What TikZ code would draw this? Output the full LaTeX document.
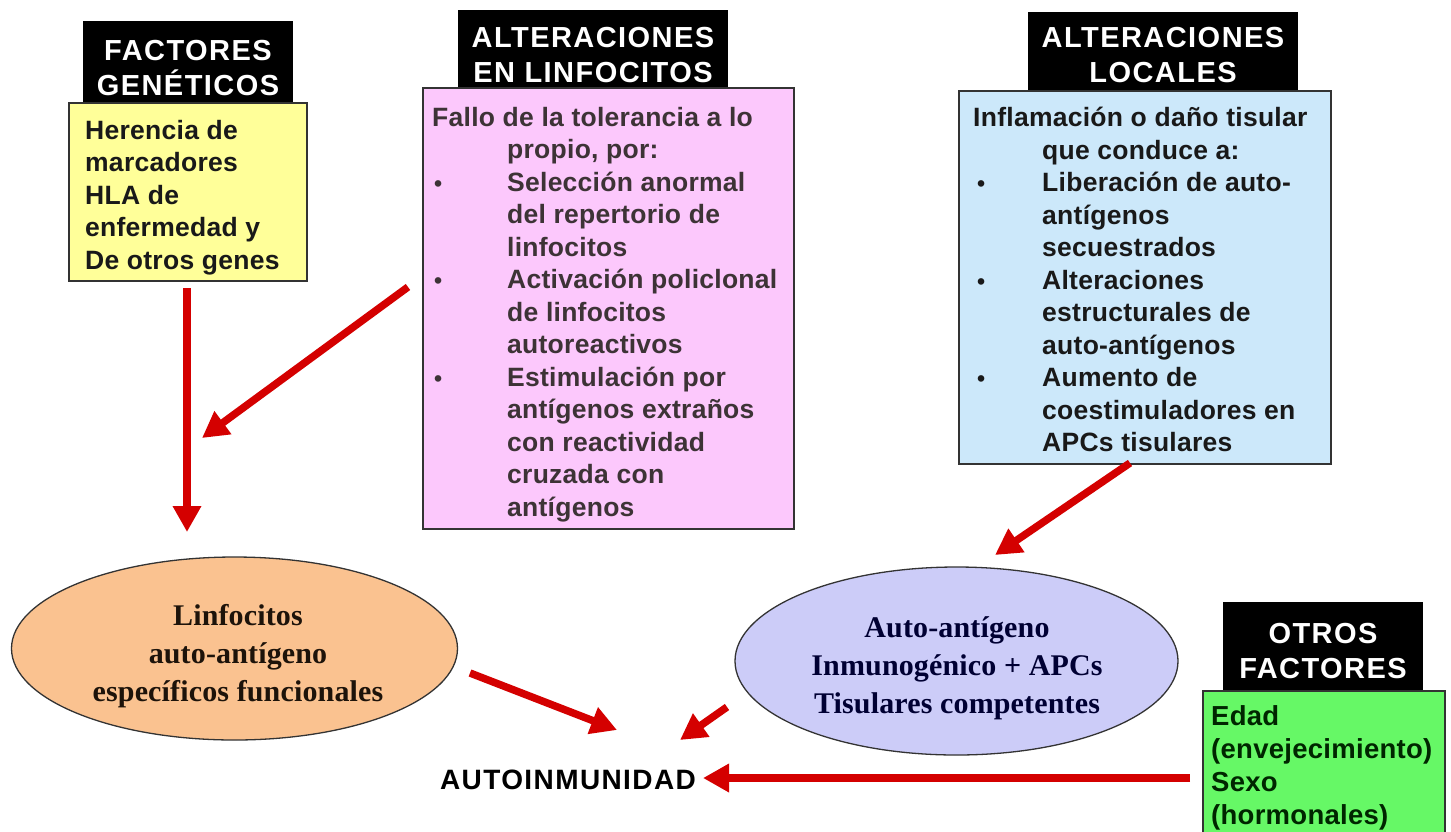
\documentclass[tikz,border=0pt]{standalone}
\usepackage{fontspec}
\setmainfont{Liberation Sans}
\newfontfamily\bodyfont[LetterSpace=1]{Liberation Sans}
\newfontfamily\titlefont[LetterSpace=5]{Liberation Sans}
\newfontfamily\autofont[LetterSpace=5]{Liberation Sans}
\newfontfamily\ellfont[LetterSpace=0.5]{Liberation Serif}
\usetikzlibrary{shapes.geometric,arrows.meta}
\definecolor{yel}{HTML}{FFFF99}
\definecolor{pnk}{HTML}{FCC8FC}
\definecolor{sky}{HTML}{CCE8FA}
\definecolor{grn}{HTML}{66F866}
\definecolor{org}{HTML}{FAC290}
\definecolor{lav}{HTML}{CCCCF8}
\definecolor{arr}{HTML}{D40000}
\definecolor{boxline}{HTML}{333333}
\newcommand{\bul}{{\fontsize{23}{23}\selectfont\textbullet}}
\begin{document}
\begin{tikzpicture}[x=1pt,y=-1pt,
 box/.style={draw=boxline, line width=1.8pt, anchor=north west, inner sep=0pt},
 ttlbox/.style={fill=black, inner sep=0pt},
 ttl/.style={text=white, font=\titlefont\fontsize{29}{35}\selectfont\bfseries, align=center, inner sep=0pt},
 body/.style={anchor=north west, inner sep=0pt, align=left, text=black!90, font=\bodyfont\fontsize{26.5}{32.5}\selectfont\bfseries},
 ell/.style={ellipse, draw=boxline, line width=1.3pt, inner sep=0pt},
 elltxt/.style={align=center, inner sep=0pt, font=\ellfont\fontsize{30}{38}\selectfont\bfseries},
 redarrow/.style={draw=arr, line width=7.5pt, -{Triangle[length=26pt,width=27pt]}}
]
\useasboundingbox (0,0) rectangle (1451,831);
\fill[white] (0,0) rectangle (1451,831);

% title boxes
\node[ttlbox, minimum width=210pt, minimum height=81pt] (gentitle) at (188,61.5) {};
\node[ttlbox, minimum width=270pt, minimum height=77pt] (lymtitle) at (593,48.5) {};
\node[ttlbox, minimum width=270pt, minimum height=78pt] (loctitle) at (1163,51) {};
\node[ttlbox, minimum width=200pt, minimum height=88pt] (othtitle) at (1323,646) {};
\node[ttl] (gentitletxt) at (188,68.5) {FACTORES\\GENÉTICOS};
\node[ttl] (lymtitletxt) at (593,55.5) {ALTERACIONES\\EN LINFOCITOS};
\node[ttl] (loctitletxt) at (1163,55.5) {ALTERACIONES\\LOCALES};
\node[ttl] (othtitletxt) at (1323,651) {OTROS\\FACTORES};

% boxes
\node[box, fill=yel, minimum width=238pt, minimum height=178pt] (gen) at (68,102) {};
\node[box, fill=pnk, minimum width=371pt, minimum height=441pt] (lym) at (422,87) {};
\node[box, fill=sky, minimum width=372pt, minimum height=373pt] (loc) at (958,90) {};
\node[box, fill=grn, minimum width=242pt, minimum height=160pt] (oth) at (1202,690) {};

% box texts
\node[body] (gentxt) at (85,120) {Herencia de\\marcadores\\HLA de\\enfermedad y\\De otros genes};
\node[body, text=black!88!magenta] (lymtxt) at (432,107) {Fallo de la tolerancia a lo\\
\hspace*{75pt}propio, por:\\
\makebox[75pt][l]{\hspace*{2pt}\bul}Selección anormal\\
\hspace*{75pt}del repertorio de\\
\hspace*{75pt}linfocitos\\
\makebox[75pt][l]{\hspace*{2pt}\bul}Activación policlonal\\
\hspace*{75pt}de linfocitos\\
\hspace*{75pt}autoreactivos\\
\makebox[75pt][l]{\hspace*{2pt}\bul}Estimulación por\\
\hspace*{75pt}antígenos extraños\\
\hspace*{75pt}con reactividad\\
\hspace*{75pt}cruzada con\\
\hspace*{75pt}antígenos};
\node[body] (loctxt) at (973,107) {Inflamación o daño tisular\\
\hspace*{69pt}que conduce a:\\
\makebox[69pt][l]{\hspace*{4pt}\bul}Liberación de auto-\\
\hspace*{69pt}antígenos\\
\hspace*{69pt}secuestrados\\
\makebox[69pt][l]{\hspace*{4pt}\bul}Alteraciones\\
\hspace*{69pt}estructurales de\\
\hspace*{69pt}auto-antígenos\\
\makebox[69pt][l]{\hspace*{4pt}\bul}Aumento de\\
\hspace*{69pt}coestimuladores en\\
\hspace*{69pt}APCs tisulares};
\node[body, text=black!85!green, font=\bodyfont\fontsize{27.5}{33}\selectfont\bfseries] (othtxt) at (1211,705) {Edad\\(envejecimiento)\\Sexo\\(hormonales)};

% ellipses
\node[ell, fill=org, minimum width=446pt, minimum height=183pt] (lin) at (234.5,648.5) {};
\node[elltxt, text=black!85!brown] (lintxt) at (238,656) {Linfocitos\\auto-antígeno\\específicos funcionales};
\node[ell, fill=lav, minimum width=443pt, minimum height=188pt] (apc) at (956.5,661) {};
\node[elltxt, text=black!80!blue] (apctxt) at (957,668) {Auto-antígeno\\Inmunogénico + APCs\\Tisulares competentes};

% result
\node[inner sep=0pt, font=\autofont\fontsize{28}{30}\selectfont\bfseries] (auto) at (568,780) {AUTOINMUNIDAD};

% arrow end points
\coordinate (a1s) at (187,288);
\coordinate (a1e) at (187,532);
\coordinate (a2s) at (408,287);
\coordinate (a2e) at (202,438);
\coordinate (a3s) at (1130,463);
\coordinate (a3e) at (995,555);
\coordinate (a4s) at (470,673);
\coordinate (a4e) at (617,730);
\coordinate (a5s) at (727,707);
\coordinate (a5e) at (680,740);
\coordinate (a6s) at (1190,778);
\coordinate (a6e) at (703,778);

\draw[redarrow] (a1s) -- (a1e);
\draw[redarrow] (a2s) -- (a2e);
\draw[redarrow] (a3s) -- (a3e);
\draw[redarrow] (a4s) -- (a4e);
\draw[redarrow] (a5s) -- (a5e);
\draw[redarrow] (a6s) -- (a6e);
\end{tikzpicture}
\end{document}
